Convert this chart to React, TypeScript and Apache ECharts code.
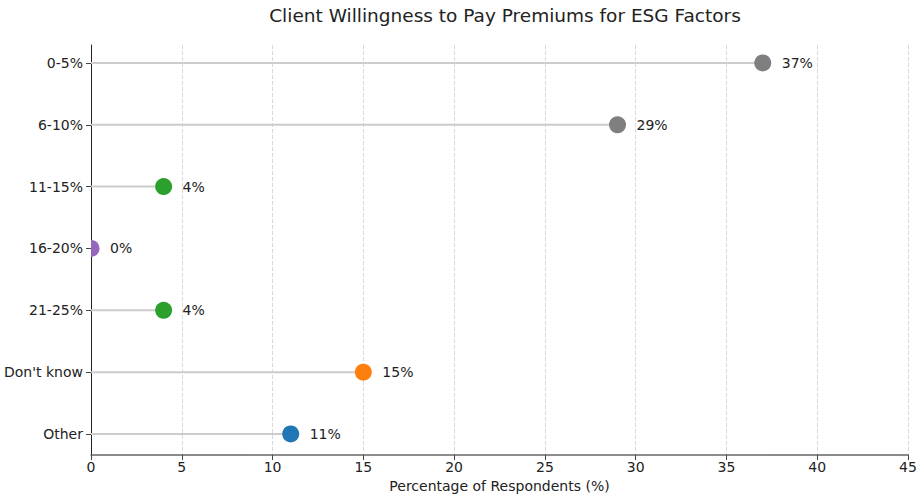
import React, { useEffect, useRef } from "react";
import * as echarts from "echarts";

const categories = ["0-5%", "6-10%", "11-15%", "16-20%", "21-25%", "Don't know", "Other"];
const values = [37, 29, 4, 0, 4, 15, 11];
const dotColors = ["#7f7f7f", "#7f7f7f", "#2ca02c", "#9467bd", "#2ca02c", "#ff7f0e", "#1f77b4"];
const xTicks = [0, 5, 10, 15, 20, 25, 30, 35, 40, 45];
const title = "Client Willingness to Pay Premiums for ESG Factors";
const xName = "Percentage of Respondents (%)";

const FONT = "'DejaVu Sans', sans-serif";

export default function App() {
  const ref = useRef<HTMLDivElement>(null);
  useEffect(() => {
    if (!ref.current) return;
    const chart = echarts.init(ref.current, undefined, { renderer: "svg" });
    const idx = categories.map((_, i) => i);
    chart.setOption({
      animation: false,
      backgroundColor: "#ffffff",
      textStyle: { fontFamily: FONT },
      title: {
        text: title,
        left: 500,
        textAlign: "center",
        top: 1,
        textStyle: { fontFamily: FONT, fontSize: 18.5, fontWeight: "normal", color: "#222" },
      },
      grid: { left: 91, right: 9, top: 45, bottom: 40, containLabel: false, outerBoundsMode: "none" },
      xAxis: {
        type: "value",
        min: 0,
        max: 45,
        interval: 5,
        name: xName,
        nameLocation: "middle",
        nameGap: 24,
        nameTextStyle: { fontFamily: FONT, fontSize: 14, color: "#222" },
        axisLine: { show: true, onZero: false, lineStyle: { color: "#666", width: 1.5 } },
        axisTick: { show: true, length: 5, lineStyle: { color: "#444" } },
        axisLabel: {
          fontFamily: FONT,
          fontSize: 14,
          color: "#222",
          margin: 5,
          customValues: xTicks,
        },
        splitLine: { show: true, lineStyle: { color: "#d9d9d9", type: "dashed", width: 1 } },
      },
      yAxis: {
        type: "value",
        inverse: true,
        min: -0.29,
        max: 6.34,
        axisLine: { show: true, onZero: false, lineStyle: { color: "#222", width: 1 } },
        axisTick: { show: true, length: 5, customValues: idx, lineStyle: { color: "#444" } },
        axisLabel: {
          fontFamily: FONT,
          fontSize: 14,
          color: "#222",
          margin: 8,
          customValues: idx,
          formatter: (v: number) => categories[Math.round(v)] ?? "",
        },
        splitLine: { show: false },
      },
      series: [
        {
          type: "custom",
          z: 3,
          clip: true,
          data: values.map((v, i) => [v, i]),
          encode: { x: 0, y: 1 },
          renderItem: (params: any, api: any) => {
            const i = params.dataIndex;
            const v = api.value(0);
            const y = api.value(1);
            const p0 = api.coord([0, y]);
            const p1 = api.coord([v, y]);
            return {
              type: "group",
              children: [
                {
                  type: "line",
                  shape: { x1: p0[0], y1: p0[1], x2: p1[0], y2: p1[1] },
                  style: { stroke: "#cccccc", lineWidth: 2 },
                },
                {
                  type: "circle",
                  shape: { cx: p1[0], cy: p1[1], r: 8.5 },
                  style: { fill: dotColors[i] },
                },
                {
                  type: "text",
                  x: p1[0] + 19,
                  y: p1[1],
                  style: {
                    text: `${v}%`,
                    fontFamily: FONT,
                    fontSize: 14,
                    fill: "#222",
                    verticalAlign: "middle",
                    align: "left",
                  },
                },
              ],
            };
          },
        },
      ],
    });
    return () => chart.dispose();
  }, []);
  return <div ref={ref} style={{ width: 917, height: 495, position: "absolute", left: 0, top: 0 }} />;
}
